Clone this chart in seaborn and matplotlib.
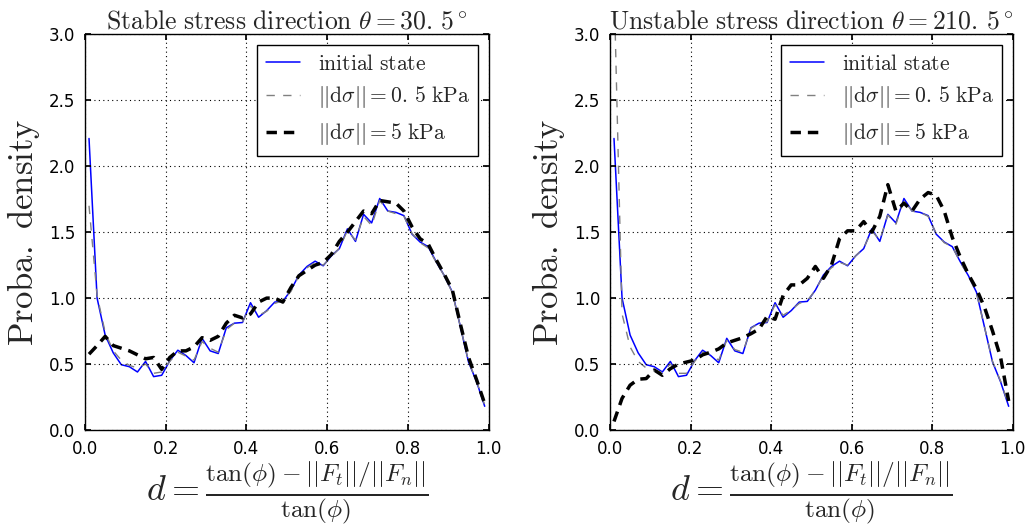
import matplotlib
matplotlib.use("Agg")
import matplotlib.pyplot as plt
import seaborn as sns
import pandas as pd

# ---- data ----
d_bins = [0.01, 0.03, 0.05, 0.07, 0.09, 0.11, 0.13, 0.15, 0.17, 0.19,
          0.21, 0.23, 0.25, 0.27, 0.29, 0.31, 0.33, 0.35, 0.37, 0.39,
          0.41, 0.43, 0.45, 0.47, 0.49, 0.51, 0.53, 0.55, 0.57, 0.59,
          0.61, 0.63, 0.65, 0.67, 0.69, 0.71, 0.73, 0.75, 0.77, 0.79,
          0.81, 0.83, 0.85, 0.87, 0.89, 0.91, 0.93, 0.95, 0.97, 0.99]

initial_state = [2.21, 1.00, 0.72, 0.585, 0.495, 0.48, 0.44, 0.52, 0.405, 0.415,
                 0.525, 0.605, 0.565, 0.51, 0.695, 0.60, 0.58, 0.775, 0.81, 0.815,
                 0.965, 0.855, 0.905, 0.97, 0.975, 1.06, 1.175, 1.24, 1.28, 1.245,
                 1.32, 1.375, 1.525, 1.43, 1.635, 1.57, 1.755, 1.66, 1.65, 1.625,
                 1.485, 1.425, 1.39, 1.275, 1.17, 1.045, 0.78, 0.515, 0.365, 0.18]

stable_05kPa = [1.70, 1.02, 0.74, 0.60, 0.53, 0.49, 0.47, 0.50, 0.43, 0.44,
                0.52, 0.59, 0.56, 0.53, 0.67, 0.62, 0.59, 0.76, 0.81, 0.82,
                0.94, 0.87, 0.90, 0.96, 0.98, 1.05, 1.17, 1.23, 1.27, 1.25,
                1.31, 1.38, 1.51, 1.44, 1.62, 1.55, 1.74, 1.66, 1.64, 1.62,
                1.49, 1.42, 1.38, 1.27, 1.17, 1.04, 0.78, 0.52, 0.37, 0.19]

stable_5kPa = [0.575, 0.64, 0.71, 0.64, 0.62, 0.60, 0.57, 0.54, 0.55, 0.46,
               0.55, 0.60, 0.60, 0.63, 0.70, 0.68, 0.71, 0.81, 0.87, 0.85,
               0.88, 0.97, 1.00, 1.00, 0.97, 1.08, 1.17, 1.21, 1.25, 1.27,
               1.33, 1.43, 1.50, 1.58, 1.66, 1.64, 1.74, 1.73, 1.72, 1.66,
               1.54, 1.45, 1.41, 1.29, 1.18, 1.06, 0.80, 0.55, 0.38, 0.20]

unstable_05kPa = [3.40, 0.88, 0.63, 0.52, 0.47, 0.45, 0.44, 0.50, 0.43, 0.43,
                  0.52, 0.59, 0.57, 0.53, 0.68, 0.61, 0.59, 0.77, 0.81, 0.82,
                  0.95, 0.87, 0.91, 0.96, 0.98, 1.06, 1.17, 1.23, 1.27, 1.25,
                  1.32, 1.38, 1.51, 1.44, 1.63, 1.56, 1.74, 1.66, 1.65, 1.62,
                  1.49, 1.42, 1.39, 1.27, 1.17, 1.04, 0.78, 0.52, 0.37, 0.19]

unstable_5kPa = [0.065, 0.24, 0.34, 0.385, 0.39, 0.455, 0.415, 0.465, 0.50, 0.515,
                 0.53, 0.57, 0.59, 0.615, 0.66, 0.68, 0.70, 0.73, 0.765, 0.86,
                 0.84, 1.02, 1.10, 1.10, 1.15, 1.24, 1.15, 1.25, 1.45, 1.51,
                 1.51, 1.58, 1.50, 1.62, 1.86, 1.66, 1.72, 1.66, 1.75, 1.80,
                 1.78, 1.66, 1.46, 1.31, 1.18, 1.07, 0.93, 0.75, 0.55, 0.22]

titles = [r"$\mathrm{Stable\ stress\ direction}\ \theta=30.\,5^\circ$",
          r"$\mathrm{Unstable\ stress\ direction}\ \theta=210.\,5^\circ$"]
legend_labels = [r"$\mathrm{initial\ state}$",
                 r"$||\mathrm{d}\sigma||=0.\,5\ \mathrm{kPa}$",
                 r"$||\mathrm{d}\sigma||=5\ \mathrm{kPa}$"]
xlabel = r"$d=\frac{\tan(\phi)-||F_t||/||F_n||}{\tan(\phi)}$"
ylabel = r"$\mathrm{Proba.\ density}$"

# ---- style ----
sns.set_theme(style="white")
plt.rcParams.update({
    "font.family": ["DejaVu Sans"],
    "mathtext.fontset": "cm",
    "axes.edgecolor": "black",
    "axes.linewidth": 1.0,
    "xtick.direction": "in",
    "ytick.direction": "in",
    "xtick.top": True,
    "ytick.right": True,
    "xtick.bottom": True,
    "ytick.left": True,
    "xtick.major.size": 4,
    "ytick.major.size": 4,
    "xtick.major.pad": 7,
    "ytick.major.pad": 7,
    "xtick.color": "black",
    "ytick.color": "black",
    "xtick.labelsize": 12,
    "ytick.labelsize": 12,
})

fig = plt.figure(figsize=(10.30, 5.27), dpi=100)
ax_l = fig.add_axes([0.0825, 0.184, 0.392, 0.751])
ax_r = fig.add_axes([0.5922, 0.184, 0.391, 0.751])

panels = [(ax_l, titles[0], stable_05kPa, stable_5kPa),
          (ax_r, titles[1], unstable_05kPa, unstable_5kPa)]

for ax, title, s05, s5 in panels:
    df = pd.DataFrame({"d": d_bins, "init": initial_state, "s05": s05, "s5": s5})
    sns.lineplot(data=df, x="d", y="init", ax=ax, color="blue", lw=1.1,
                 estimator=None, label=legend_labels[0])
    sns.lineplot(data=df, x="d", y="s05", ax=ax, color="gray", lw=1.0,
                 linestyle=(0, (6, 6)), estimator=None, label=legend_labels[1])
    sns.lineplot(data=df, x="d", y="s5", ax=ax, color="black", lw=2.5,
                 linestyle=(0, (3, 2)), estimator=None, label=legend_labels[2])
    ax.set_xlim(0, 1)
    ax.set_ylim(0, 3)
    ax.set_xticks([0.0, 0.2, 0.4, 0.6, 0.8, 1.0])
    ax.set_yticks([0.0, 0.5, 1.0, 1.5, 2.0, 2.5, 3.0])
    ax.grid(True, color="black", linestyle=(0, (1, 3)), linewidth=0.8)
    ax.set_axisbelow(False)
    for sp in ax.spines.values():
        sp.set_visible(True)
        sp.set_color("black")
        sp.set_linewidth(1.0)
    ax.set_title(title, fontsize=18.5, pad=3)
    ax.set_xlabel(xlabel, fontsize=26, labelpad=1)
    ax.set_ylabel(ylabel, fontsize=25, labelpad=5)
    leg = ax.legend(loc="upper right", fontsize=15.5, frameon=True, fancybox=False,
                    framealpha=1, edgecolor="black", handlelength=1.6,
                    borderaxespad=0.5, labelspacing=0.5)
    leg.get_frame().set_linewidth(1.0)

fig.savefig("out.png", dpi=100)
